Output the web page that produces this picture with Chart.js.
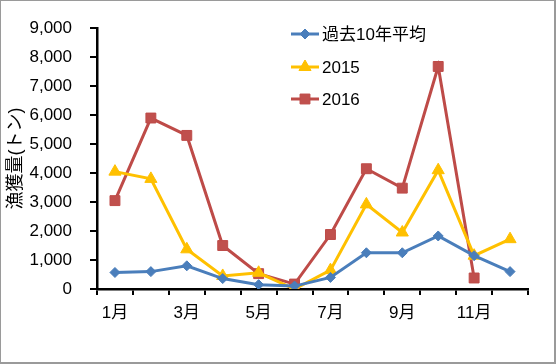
<!DOCTYPE html>
<html><head><meta charset="utf-8">
<script src="https://cdn.jsdelivr.net/npm/chart.js@4/dist/chart.umd.min.js"></script>
<style>html,body{margin:0;padding:0;background:#fff}canvas{display:block}</style>
</head><body>
<canvas id="c" width="556" height="364"></canvas>
<script>
const months = ['1月','2月','3月','4月','5月','6月','7月','8月','9月','10月','11月','12月'];
const avg10 = [570, 600, 800, 360, 150, 100, 400, 1250, 1250, 1830, 1150, 600];
const y2015 = [4050, 3800, 1370, 450, 560, 0, 650, 2920, 1950, 4100, 1150, 1720];
const y2016 = [3050, 5900, 5300, 1500, 530, 170, 1880, 4150, 3480, 7680, 380, null];
const seriesNames = ['過去10年平均', '2015', '2016'];
const yTitle = '漁獲量(トン)';

const FONT = "'Liberation Sans', 'Noto Sans CJK JP', sans-serif";

const frame = {
  id: 'frame',
  beforeDraw(chart) {
    const ctx = chart.ctx;
    ctx.save();
    ctx.fillStyle = '#9a9a9a';
    ctx.fillRect(0, 0, chart.width, chart.height);
    ctx.fillStyle = '#fff';
    ctx.fillRect(1, 1, 553, 361);
    ctx.restore();
  }
};

const legendPlugin = {
  id: 'customLegend',
  afterDraw(chart) {
    const ctx = chart.ctx;
    ctx.save();
    const rows = [34, 67, 99];
    chart.data.datasets.forEach((ds, i) => {
      const y = rows[i];
      ctx.strokeStyle = ds.borderColor;
      ctx.lineWidth = 3;
      ctx.beginPath();
      ctx.moveTo(291, y);
      ctx.lineTo(319, y);
      ctx.stroke();
      ctx.fillStyle = ds.backgroundColor;
      ctx.strokeStyle = ds.borderColor;
      ctx.lineWidth = 1;
      Chart.helpers.drawPoint(ctx, {
        pointStyle: ds.pointStyle,
        radius: ds.pointRadius,
        rotation: 0,
        borderWidth: 1
      }, 305, y);
      ctx.fillStyle = '#000';
      ctx.font = "17px " + FONT;
      ctx.textBaseline = 'middle';
      ctx.textAlign = 'left';
      ctx.fillText(ds.label, 322, y + 1);
    });
    ctx.restore();
  }
};

new Chart(document.getElementById('c'), {
  type: 'line',
  data: {
    labels: months,
    datasets: [
      { label: seriesNames[0], data: avg10, borderColor: '#4A7EBB', backgroundColor: '#4A7EBB',
        borderWidth: 3, pointStyle: 'rectRot', pointRadius: 5, pointBorderWidth: 1 },
      { label: seriesNames[1], data: y2015, borderColor: '#FFC000', backgroundColor: '#FFC000',
        borderWidth: 3, pointStyle: 'triangle', pointRadius: 7, pointBorderWidth: 1 },
      { label: seriesNames[2], data: y2016, borderColor: '#BE4B48', backgroundColor: '#C0504D',
        borderWidth: 3, pointStyle: 'rect', pointRadius: 7, pointBorderWidth: 1 }
    ]
  },
  options: {
    responsive: false,
    animation: false,
    events: [],
    layout: { padding: { left: 5, right: 28, top: 24, bottom: 0 } },
    plugins: { legend: { display: false }, tooltip: { enabled: false } },
    elements: { line: { tension: 0 } },
    scales: {
      x: {
        type: 'category',
        offset: true,
        grid: { offset: true, drawOnChartArea: false, drawTicks: true, tickLength: 6, color: '#000', lineWidth: 2 },
        border: { display: true, color: '#000', width: 2.5 },
        ticks: {
          autoSkip: false, maxRotation: 0, minRotation: 0, padding: 8, color: '#000',
          font: { size: 17, family: FONT },
          callback: function (v, i) { return i % 2 === 0 ? months[i] : ''; }
        },
        afterFit(s) { s.height = 75; }
      },
      y: {
        min: 0, max: 9000,
        grid: { drawOnChartArea: false, drawTicks: true, tickLength: 7, color: '#000', lineWidth: 2 },
        border: { display: true, color: '#000', width: 2.5 },
        ticks: {
          stepSize: 1000, padding: 18, color: '#000',
          font: { size: 17, family: FONT },
          callback: v => v.toLocaleString('en-US')
        },
        title: { display: true, text: yTitle, color: '#000', font: { size: 18, family: FONT }, padding: { top: 0, bottom: 0 } },
        afterFit(s) { s.width = 92; }
      }
    }
  },
  plugins: [frame, legendPlugin]
});
</script>
</body></html>
